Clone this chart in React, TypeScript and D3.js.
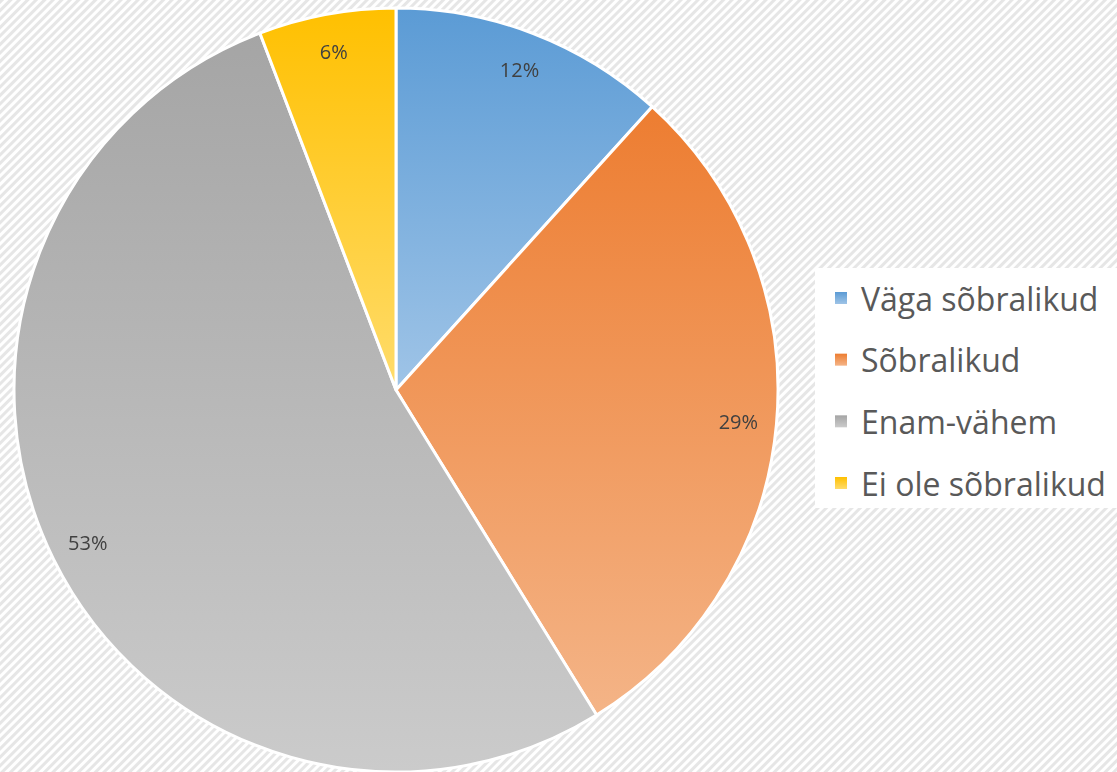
import React from "react";
import * as d3 from "d3";

const categories = ["Väga sõbralikud", "Sõbralikud", "Enam-vähem", "Ei ole sõbralikud"];
const values = [11.7, 29.5, 53.0, 5.8];
const labels = ["12%", "29%", "53%", "6%"];
const topColors = ["#5b9bd5", "#ed7d31", "#a5a5a5", "#ffc000"];
const bottomColors = ["#9fc4e7", "#f4b487", "#cbcbcb", "#ffdc6b"];

const W = 1117;
const H = 772;

export default function App() {
  const cx = 396;
  const cy = 390;
  const r = 382;
  const pie = d3.pie<number>().sort(null).value((d) => d)(values);
  const arc = d3.arc<d3.PieArcDatum<number>>().innerRadius(0).outerRadius(r);
  const labelArc = d3.arc<d3.PieArcDatum<number>>().innerRadius(r * 0.9).outerRadius(r * 0.9);
  const font = "'Open Sans', sans-serif";
  const legendY = d3.scalePoint<string>().domain(categories).range([298, 483]);

  return (
    <div style={{ position: "fixed", left: 0, top: 0, width: W, height: H }}>
      <svg width={W} height={H} style={{ display: "block" }}>
        <defs>
          <pattern id="hatch" width="6" height="6" patternUnits="userSpaceOnUse" patternTransform="rotate(45)">
            <rect width="6" height="6" fill="#ffffff" />
            <rect width="3" height="6" fill="#e6e6e6" />
          </pattern>
          {categories.map((c, i) => (
            <linearGradient key={c} id={`g${i}`} x1="0" y1="0" x2="0" y2="1">
              <stop offset="0" stopColor={topColors[i]} />
              <stop offset="1" stopColor={bottomColors[i]} />
            </linearGradient>
          ))}
        </defs>
        <rect width={W} height={H} fill="url(#hatch)" />
        <g transform={`translate(${cx},${cy})`}>
          {pie.map((p, i) => (
            <path key={i} d={arc(p) || ""} fill={`url(#g${i})`} stroke="#ffffff" strokeWidth={3} strokeLinejoin="round" />
          ))}
          {pie.map((p, i) => {
            const [x, y] = labelArc.centroid(p);
            return (
              <text key={i} x={x} y={y} textAnchor="middle" dominantBaseline="central" fontFamily={font} fontSize={20} fill="#404040">
                {labels[i]}
              </text>
            );
          })}
        </g>
        <rect x={815} y={268} width={W - 815} height={240} fill="#ffffff" />
        {categories.map((c, i) => {
          const y = legendY(c) as number;
          return (
            <g key={c}>
              <rect x={835} y={y - 6} width={12} height={12} fill={`url(#g${i})`} />
              <text x={861} y={y} dominantBaseline="central" fontFamily={font} fontSize={32} fill="#595959">
                {c}
              </text>
            </g>
          );
        })}
      </svg>
    </div>
  );
}
